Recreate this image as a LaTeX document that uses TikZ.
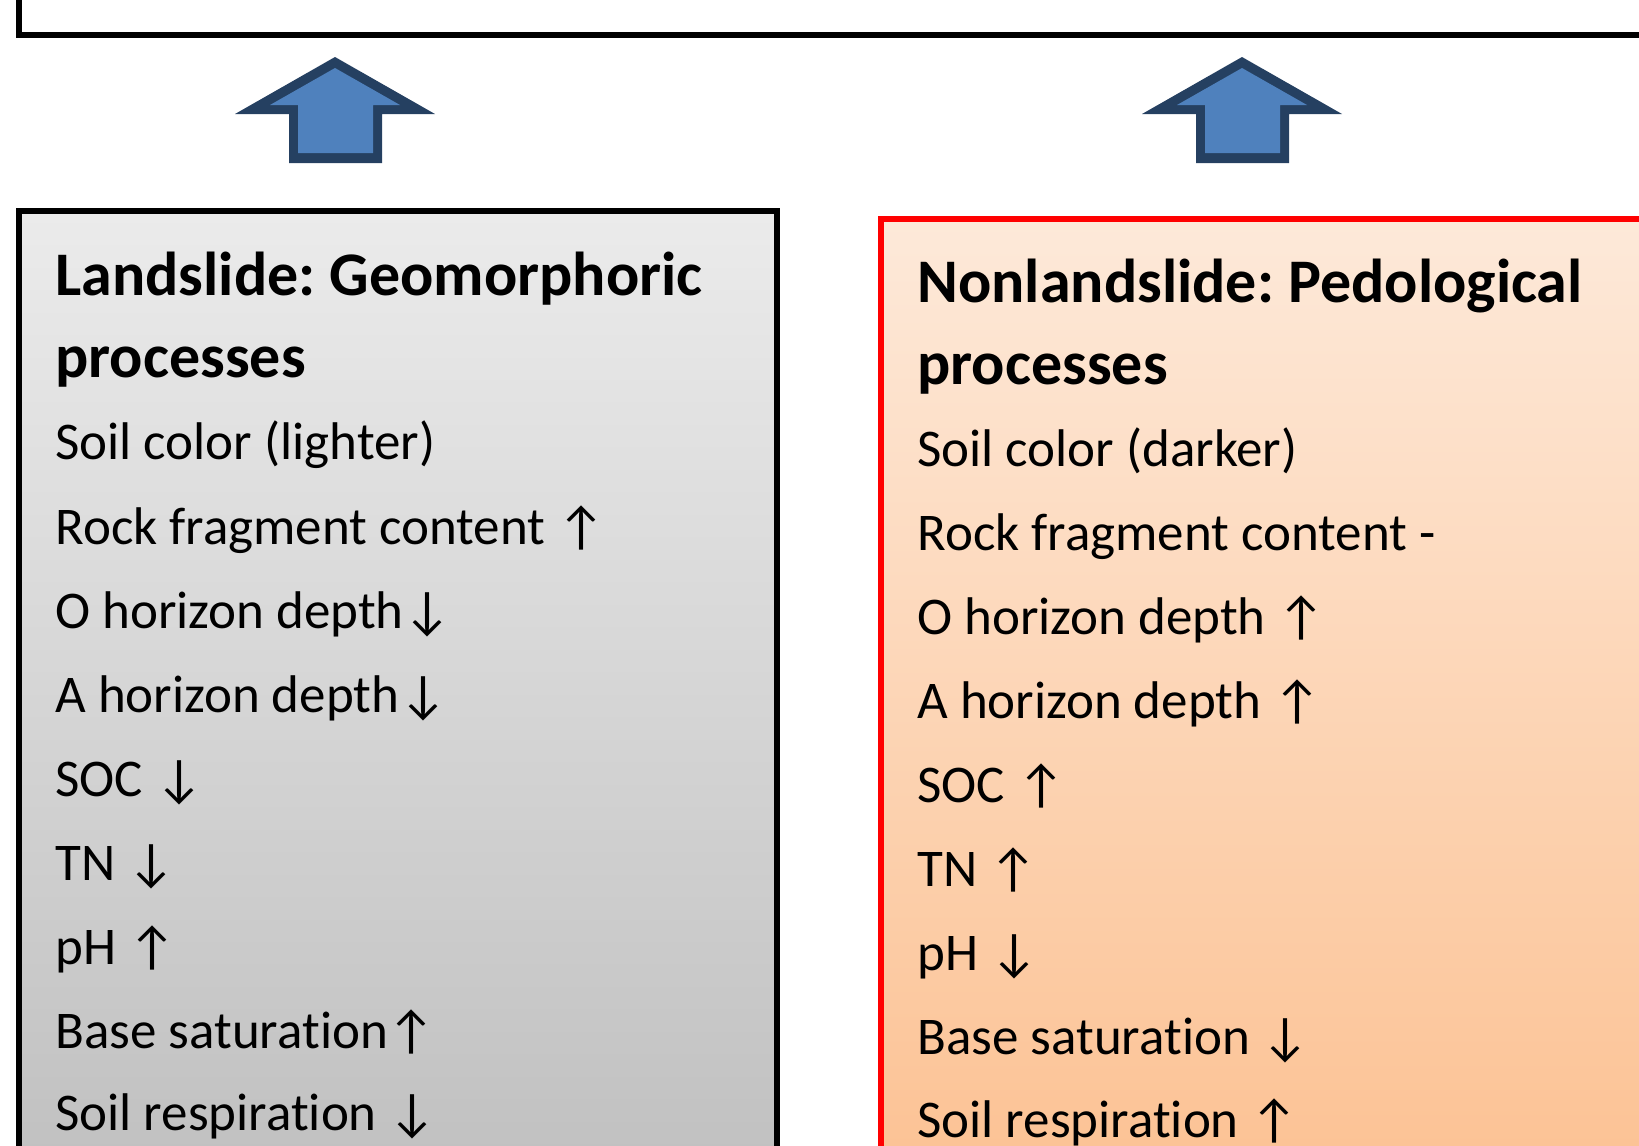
\documentclass[tikz,border=0pt]{standalone}
\usepackage{fontspec}
\setmainfont{Carlito}[Ligatures=NoCommon]
\definecolor{arrowfill}{RGB}{79,129,189}
\definecolor{arrowline}{RGB}{37,64,97}
\definecolor{greytop}{RGB}{235,235,235}
\definecolor{greybot}{RGB}{191,191,191}
\definecolor{orangetop}{RGB}{253,233,217}
\definecolor{orangebot}{RGB}{252,193,146}
\definecolor{boxred}{RGB}{255,0,0}
\tikzset{
  body/.style={anchor=base west, inner sep=0pt, font=\fontsize{26.5pt}{30pt}\selectfont},
  title/.style={anchor=base west, inner sep=0pt, font=\fontsize{31pt}{36pt}\selectfont\bfseries},
  frame/.style={line width=3pt, line join=miter},
}
\frenchspacing
\begin{document}
\begin{tikzpicture}[x=0.5pt,y=-0.5pt]
\useasboundingbox (0,0) rectangle (1639,1146);
\clip (0,0) rectangle (1639,1146);
% top box (cut off)
\draw[frame, fill=white] (19,-40) rectangle (1700,35);
% block arrows
\foreach \dx/\nm in {0/a1,907/a2}{
  \begin{scope}[xshift=\dx*0.5pt]
    \fill[arrowline] (335,57) -- (435,114) -- (382,114) -- (382,163) -- (289,163) -- (289,114) -- (235,114) -- cycle;
    \fill[arrowfill] (335,68) -- (400,105) -- (373,105) -- (373,153) -- (298,153) -- (298,105) -- (270,105) -- cycle;
    \coordinate (\nm) at (335,110);
  \end{scope}
}
% left box
\draw[frame, top color=greytop, bottom color=greybot] (19,211) rectangle (777,1200);
% right box
\draw[frame, draw=boxred, top color=orangetop, bottom color=orangebot] (881,219) rectangle (1700,1200);
% left text
\node[title] (l0) at (55,295) {Landslide: Geomorphoric};
\node[title] (l1) at (55,377) {processes};
\node[body] (l2) at (55,459) {Soil color (lighter)};
\node[body] (l3) at (55,544) {Rock fragment content ↑};
\node[body] (l4) at (55,628) {O horizon depth↓};
\node[body] (l5) at (55,712) {A horizon depth↓};
\node[body] (l6) at (55,796) {SOC ↓};
\node[body] (l7) at (55,880) {TN ↓};
\node[body] (l8) at (55,964) {pH ↑};
\node[body] (l9) at (55,1048) {Base saturation↑};
\node[body] (l10) at (55,1130) {Soil respiration ↓};
% right text
\node[title] (r0) at (917,302) {Nonlandslide: Pedological};
\node[title] (r1) at (917,384) {processes};
\node[body] (r2) at (917,466) {Soil color (darker)};
\node[body] (r3) at (917,550) {Rock fragment content -};
\node[body] (r4) at (917,634) {O horizon depth ↑};
\node[body] (r5) at (917,718) {A horizon depth ↑};
\node[body] (r6) at (917,802) {SOC ↑};
\node[body] (r7) at (917,886) {TN ↑};
\node[body] (r8) at (917,970) {pH ↓};
\node[body] (r9) at (917,1054) {Base saturation ↓};
\node[body] (r10) at (917,1137) {Soil respiration ↑};
\end{tikzpicture}
\end{document}
